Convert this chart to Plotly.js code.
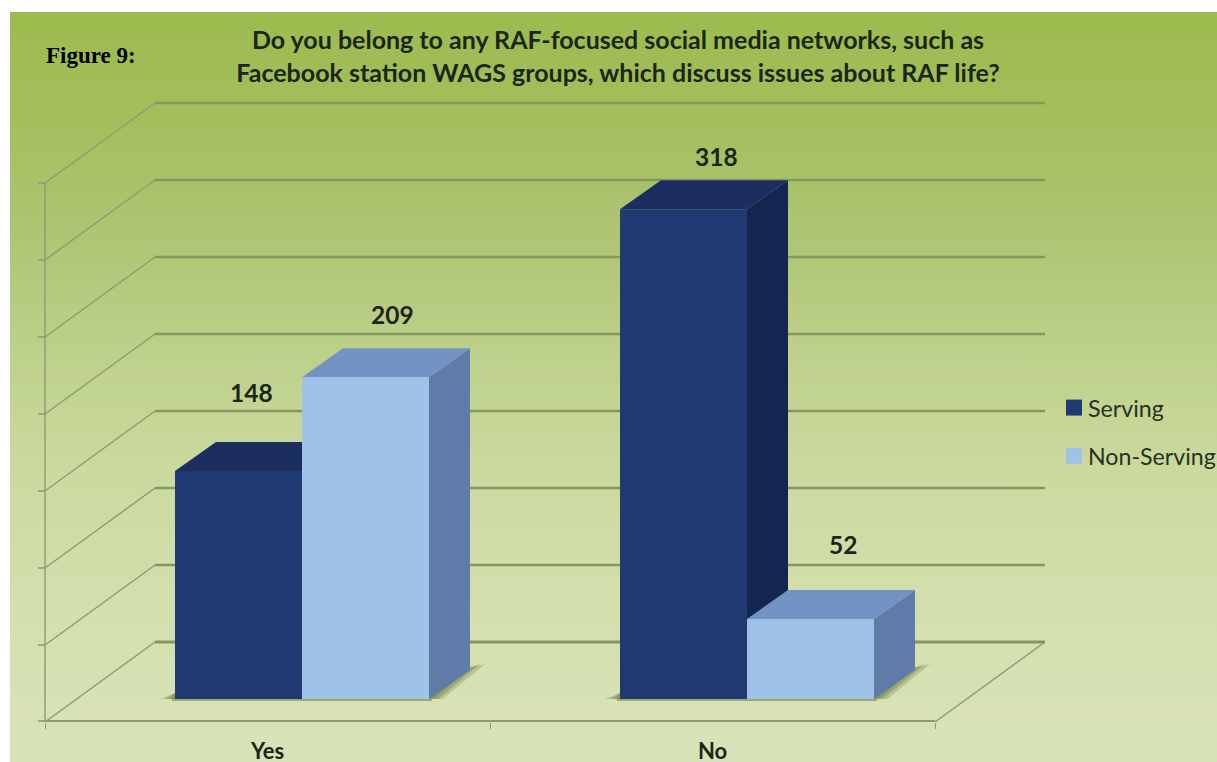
<!DOCTYPE html>
<html>
<head>
<meta charset="utf-8">
<title>Figure 9</title>
<script src="https://cdn.plot.ly/plotly-3.0.1.min.js"></script>
<style>
  html, body { margin: 0; padding: 0; width: 1217px; height: 762px; overflow: hidden; background: #fff; }
  #panel {
    position: absolute; left: 10px; top: 12px; width: 1207px; height: 750px;
    background: linear-gradient(180deg, #9cbb4e 0%, #a3bf5c 14%, #aec574 30%, #bdd08a 45%, #cbda9f 62%, #d4dfae 80%, #d9e3b9 100%);
  }
  #chart { position: absolute; left: 0; top: 0; width: 1400px; height: 800px; }
</style>
</head>
<body>
<div id="panel"></div>
<div id="chart"></div>
<script>
// Survey answers
const categories = ['Yes', 'No'];
const serving = [148, 318];
const nonServing = [209, 52];
const valueTicks = [0, 50, 100, 150, 200, 250, 300, 350];

// Palette for the extruded bars
const servingFaces = { front: '#1f3a73', side: '#14254f', top: '#1c2e60' };
const nonServingFaces = { front: '#a0c2e8', side: '#5f7ca8', top: '#7293c4' };
const gridColor = '#84975f';
const wallColor = '#8b9c72';
const shadowColor = '#6f7d45';
const inkColor = '#1c2616';
const textFont = 'Lato, Carlito, "Open Sans", sans-serif';

// Page-to-axis scale
const W = 1400, H = 800, plotBottom = 722;
const pxPerX = 445, pxPerValue = 1.54;
const originX = 302, originY = 699;
const xRange = [-originX / pxPerX, (W - originX) / pxPerX];
const yRange = [(originY - plotBottom) / pxPerValue, originY / pxPerValue];

// Oblique projection offsets, in axis units, relative to the bars' front plane
const barDepth = { dx: 41 / pxPerX, dy: 29 / pxPerValue };
const floorFront = { dx: -34.5 / pxPerX, dy: -23 / pxPerValue };
const floorBack = { dx: 75.5 / pxPerX, dy: 57 / pxPerValue };
const barWidth = 127 / pxPerX;

const floorLeft = -0.5, floorRight = categories.length - 0.5;

function polygon(points, fill, opacity) {
  return {
    type: 'path', xref: 'x', yref: 'y', layer: 'below',
    path: 'M' + points.map(p => p[0] + ',' + p[1]).join('L') + 'Z',
    fillcolor: fill, opacity: opacity === undefined ? 1 : opacity,
    line: { width: 0 }
  };
}
function segment(x0, y0, x1, y1, color, width) {
  return { type: 'line', xref: 'x', yref: 'y', layer: 'below', x0, y0, x1, y1, line: { color, width } };
}

const shapes = [];

// Back wall, side wall and floor lines
valueTicks.forEach(v => {
  const fx = floorLeft + floorFront.dx, fy = v + floorFront.dy;
  const bx = floorLeft + floorBack.dx, by = v + floorBack.dy;
  shapes.push(segment(fx, fy, bx, by, wallColor, 1.4));
  shapes.push(segment(fx - 7 / pxPerX, fy + (v === 0 ? 1 / pxPerValue : 0), fx, fy + (v === 0 ? 1 / pxPerValue : 0), wallColor, 1.6));
  shapes.push(segment(bx, by, floorRight + floorBack.dx, by, gridColor, v === 0 ? 2.8 : 2.4));
});
const topTick = valueTicks[valueTicks.length - 1];
const frontFloorY = floorFront.dy + 1 / pxPerValue;
shapes.push(segment(floorLeft + floorFront.dx, floorFront.dy, floorLeft + floorFront.dx, topTick + floorFront.dy, wallColor, 1.4));
shapes.push(segment(floorRight + floorFront.dx, floorFront.dy, floorRight + floorBack.dx, floorBack.dy, wallColor, 1.4));
shapes.push(segment(floorLeft + floorFront.dx, frontFloorY, floorRight + floorFront.dx, frontFloorY, wallColor, 2));

// Soft cast shadow around the foot of each bar pair, built from stacked wedges
categories.forEach((_, i) => {
  const left = i - barWidth, right = i + barWidth;
  const rise = 6 / pxPerValue;
  [[5, 0.45], [10, 0.38], [15, 0.3]].forEach(([px, alpha]) => {
    const spread = px / pxPerX;
    shapes.push(polygon([
      [right, 0], [right + spread * 0.9, 0],
      [right + barDepth.dx + spread, barDepth.dy + rise], [right + barDepth.dx, barDepth.dy + rise * 0.4]
    ], shadowColor, alpha));
    shapes.push(polygon([
      [left - spread, 0], [left, rise], [left, 0]
    ], shadowColor, alpha));
  });
  shapes.push(segment(left - 3 / pxPerX, -1 / pxPerValue, right + 3 / pxPerX, -1 / pxPerValue, '#8a9663', 1.4));
});

// Side and top faces; the front faces are the bar traces
function addDepthFaces(values, faces, offset) {
  values.forEach((v, i) => {
    const x0 = i + offset, x1 = x0 + barWidth;
    shapes.push(polygon([
      [x1, 0], [x1 + barDepth.dx, barDepth.dy],
      [x1 + barDepth.dx, v + barDepth.dy], [x1, v]
    ], faces.side));
    shapes.push(polygon([
      [x0, v], [x1, v],
      [x1 + barDepth.dx, v + barDepth.dy], [x0 + barDepth.dx, v + barDepth.dy]
    ], faces.top));
  });
}
addDepthFaces(serving, servingFaces, -barWidth);
addDepthFaces(nonServing, nonServingFaces, 0);

const positions = categories.map((_, i) => i);

const traces = [
  { type: 'bar', name: 'Serving', x: positions, y: serving, legendgroup: 'a',
    marker: { color: servingFaces.front }, hovertemplate: 'Serving: %{y}<extra></extra>' },
  { type: 'bar', name: 'Non-Serving', x: positions, y: nonServing, legendgroup: 'b',
    marker: { color: nonServingFaces.front }, hovertemplate: 'Non-Serving: %{y}<extra></extra>' }
];

// Value labels sit above and behind each bar, nudged clear of its top face
const labelNudge = {
  serving: [{ x: 13, y: 79 }, { x: 33, y: 53 }],
  nonServing: [{ x: 27, y: 63 }, { x: 32, y: 74 }]
};
function valueLabels(values, offset, nudges) {
  return values.map((v, i) => ({
    xref: 'x', yref: 'y', x: i + offset, y: v, text: String(v), showarrow: false,
    xshift: nudges[i].x, yshift: nudges[i].y,
    font: { family: textFont, size: 24.5, color: inkColor, weight: 700 }
  }));
}
const annotations = [
  ...valueLabels(serving, -barWidth / 2, labelNudge.serving),
  ...valueLabels(nonServing, barWidth / 2, labelNudge.nonServing),
  { xref: 'paper', yref: 'paper', xanchor: 'left', yanchor: 'middle', x: 44 / W, y: 1 - 55 / plotBottom,
    text: 'Figure 9:', showarrow: false,
    font: { family: '"Liberation Serif", serif', size: 23, color: '#000', weight: 700 } }
];

const layout = {
  width: W, height: H,
  margin: { l: 0, r: 0, t: 0, b: H - plotBottom, pad: 0, autoexpand: false },
  paper_bgcolor: 'rgba(0,0,0,0)', plot_bgcolor: 'rgba(0,0,0,0)',
  font: { family: textFont, color: inkColor },
  title: {
    text: 'Do you belong to any RAF-focused social media networks, such as<br>Facebook station WAGS groups, which discuss issues about RAF life?',
    xref: 'paper', x: 618 / W, xanchor: 'center',
    yref: 'container', y: 1 - 49 / H, yanchor: 'top',
    font: { family: textFont, size: 25, color: inkColor, weight: 700 }
  },
  barmode: 'group',
  bargap: 1 - 2 * barWidth,
  bargroupgap: 0,
  xaxis: {
    type: 'linear', range: xRange, fixedrange: true,
    showgrid: false, zeroline: false, showline: false,
    tickmode: 'array',
    tickvals: positions.map(p => p + floorFront.dx),
    ticktext: categories,
    ticks: '', ticklabelstandoff: 14,
    tickfont: { family: textFont, size: 22, color: inkColor, weight: 700 },
    minor: {
      tickmode: 'array',
      tickvals: [floorLeft, 0.5, floorRight].map(p => p + floorFront.dx),
      ticks: 'outside', ticklen: 6, tickwidth: 1.4, tickcolor: wallColor, showgrid: false
    }
  },
  yaxis: { type: 'linear', range: yRange, fixedrange: true, visible: false, showgrid: false, zeroline: false },
  shapes: shapes,
  annotations: annotations,
  showlegend: true,
  legend: {
    xref: 'paper', yref: 'paper', x: 1054 / W, y: 1 - 386 / plotBottom,
    xanchor: 'left', yanchor: 'top', bgcolor: 'rgba(0,0,0,0)', borderwidth: 0,
    traceorder: 'grouped', tracegroupgap: 15, itemclick: false, itemdoubleclick: false,
    font: { family: textFont, size: 23.2, color: '#26321f' }
  }
};

Plotly.newPlot('chart', traces, layout, { displayModeBar: false }).then(() => {
  // Larger legend swatches, closer to their labels
  document.querySelectorAll('#chart .legendtext').forEach(t => t.setAttribute('x', '34'));
  document.querySelectorAll('#chart .legendpoints path').forEach(p => p.setAttribute('d', 'M8,8H-8V-8H8Z'));
});
</script>
</body>
</html>
